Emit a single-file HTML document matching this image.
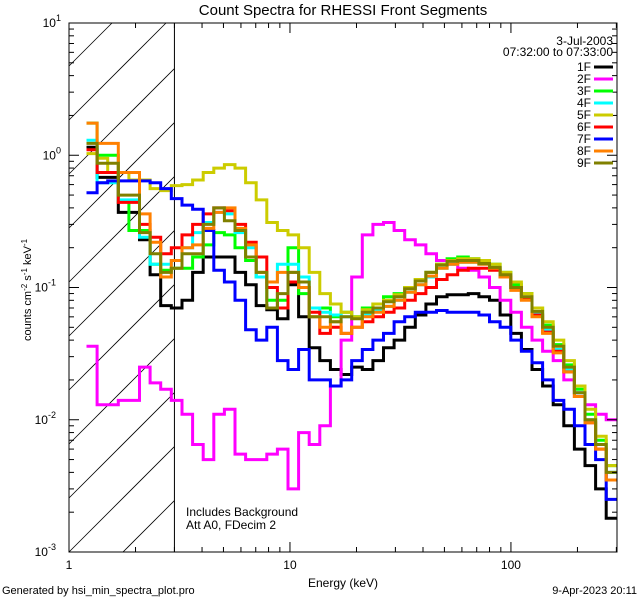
<!DOCTYPE html>
<html><head><meta charset="utf-8"><style>
html,body{margin:0;padding:0;background:#fff;overflow:hidden;width:640px;height:600px;}
svg{display:block;}
svg text{font-family:"Liberation Sans",sans-serif;}
</style></head><body>
<svg id="chart" width="640" height="600" viewBox="0 0 640 600" xmlns="http://www.w3.org/2000/svg">
<rect width="640" height="600" fill="#fff"/>
<text x="343" y="15" font-size="15" text-anchor="middle">Count Spectra for RHESSI Front Segments</text>
<text x="613" y="45" font-size="12" text-anchor="end">3-Jul-2003</text>
<text x="613" y="56" font-size="12" text-anchor="end">07:32:00 to 07:33:00</text>
<text x="343" y="587" font-size="12" text-anchor="middle">Energy (keV)</text>
<text transform="translate(31,290) rotate(-90)" font-size="11" text-anchor="middle">counts cm<tspan baseline-shift="super" font-size="8">-2</tspan> s<tspan baseline-shift="super" font-size="8">-1</tspan> keV<tspan baseline-shift="super" font-size="8">-1</tspan></text>
<text x="2" y="594" font-size="11">Generated by hsi_min_spectra_plot.pro</text>
<text x="637" y="594" font-size="11" text-anchor="end">9-Apr-2023 20:11</text>
<text x="186" y="516" font-size="12">Includes Background</text>
<text x="186" y="529" font-size="12">Att A0, FDecim 2</text>
<g id="plot"></g>
</svg>
<script>
const seriesNames = ["1F","2F","3F","4F","5F","6F","7F","8F","9F"];
const seriesColors = ["#000000","#ff00ff","#00ff00","#00ffff","#cccc00","#ff0000","#0000ff","#ff8000","#808000"];
const binStart = 1.2;
const binLogStep = 0.048;
const nBins = 50;
const s1F = [1.15,0.68,0.68,0.37,0.37,0.23,0.125,0.073,0.07,0.08,0.13,0.17,0.17,0.17,0.13,0.105,0.073,0.068,0.058,0.105,0.06,0.035,0.028,0.024,0.022,0.025,0.024,0.028,0.035,0.04,0.05,0.062,0.075,0.085,0.088,0.088,0.09,0.085,0.08,0.062,0.045,0.034,0.024,0.018,0.013,0.009,0.006,0.0045,0.003,0.0018];
const s2F = [0.036,0.013,0.013,0.014,0.014,0.025,0.019,0.017,0.014,0.011,0.0065,0.005,0.011,0.012,0.0055,0.005,0.005,0.0055,0.006,0.003,0.008,0.0065,0.009,0.018,0.04,0.12,0.25,0.3,0.31,0.27,0.23,0.21,0.18,0.16,0.15,0.14,0.135,0.12,0.1,0.08,0.065,0.05,0.04,0.033,0.028,0.02,0.016,0.013,0.011,0.01];
const s3F = [1.75,1.0,1.0,0.45,0.27,0.27,0.15,0.135,0.14,0.14,0.17,0.21,0.26,0.25,0.2,0.16,0.12,0.08,0.08,0.2,0.09,0.07,0.07,0.06,0.065,0.06,0.07,0.075,0.085,0.09,0.1,0.115,0.13,0.15,0.165,0.17,0.165,0.16,0.15,0.13,0.105,0.09,0.07,0.052,0.037,0.026,0.017,0.011,0.007,0.0045];
const s4F = [1.3,0.62,0.62,0.46,0.46,0.24,0.15,0.15,0.16,0.2,0.26,0.31,0.37,0.36,0.26,0.2,0.12,0.11,0.15,0.15,0.12,0.07,0.065,0.062,0.06,0.06,0.062,0.068,0.072,0.08,0.092,0.105,0.12,0.14,0.15,0.155,0.155,0.15,0.14,0.12,0.1,0.082,0.063,0.048,0.034,0.024,0.016,0.01,0.0065,0.004];
const s5F = [1.03,0.95,0.74,0.74,0.65,0.65,0.56,0.54,0.59,0.6,0.65,0.74,0.8,0.85,0.8,0.62,0.46,0.31,0.27,0.25,0.2,0.13,0.09,0.075,0.065,0.06,0.068,0.075,0.08,0.088,0.1,0.115,0.13,0.15,0.16,0.165,0.165,0.16,0.15,0.13,0.11,0.09,0.07,0.055,0.04,0.028,0.018,0.012,0.0075,0.0045];
const s6F = [1.1,0.74,0.74,0.44,0.44,0.3,0.24,0.18,0.2,0.25,0.3,0.36,0.4,0.38,0.3,0.22,0.17,0.1,0.07,0.11,0.1,0.065,0.045,0.05,0.045,0.05,0.055,0.06,0.065,0.07,0.08,0.09,0.1,0.115,0.125,0.135,0.14,0.14,0.135,0.12,0.1,0.082,0.062,0.046,0.033,0.023,0.015,0.0095,0.006,0.0035];
const s7F = [0.52,0.62,0.64,0.64,0.64,0.64,0.62,0.56,0.47,0.42,0.39,0.27,0.135,0.11,0.08,0.048,0.04,0.05,0.028,0.024,0.034,0.02,0.02,0.018,0.02,0.028,0.034,0.04,0.045,0.055,0.06,0.065,0.065,0.067,0.065,0.065,0.065,0.062,0.055,0.05,0.04,0.033,0.027,0.02,0.014,0.012,0.009,0.0065,0.005,0.0025];
const s8F = [1.75,1.23,1.23,0.74,0.74,0.36,0.22,0.12,0.16,0.2,0.21,0.28,0.37,0.4,0.28,0.21,0.13,0.11,0.13,0.13,0.1,0.06,0.05,0.055,0.045,0.05,0.06,0.065,0.072,0.08,0.092,0.105,0.122,0.14,0.15,0.155,0.155,0.15,0.14,0.12,0.095,0.08,0.06,0.045,0.032,0.023,0.015,0.0095,0.006,0.0035];
const s9F = [1.23,0.87,0.87,0.5,0.5,0.26,0.18,0.13,0.14,0.18,0.18,0.3,0.4,0.32,0.27,0.17,0.13,0.07,0.09,0.13,0.11,0.06,0.06,0.055,0.06,0.058,0.065,0.07,0.078,0.085,0.098,0.112,0.13,0.148,0.158,0.16,0.16,0.152,0.142,0.125,0.1,0.085,0.066,0.05,0.036,0.025,0.016,0.01,0.0065,0.004];
const seriesData = [s1F,s2F,s3F,s4F,s5F,s6F,s7F,s8F,s9F];
const xTickValues = [1,10,100];
const xTickLabels = ["1","10","100"];
const yTickExps = [-3,-2,-1,0,1];

const NS = "http://www.w3.org/2000/svg";
const L = 69, R = 617, T = 23, B = 552;
const xMin = 1, xMax = 302, yMin = 1e-3, yMax = 10;
function xS(e){ return L + (Math.log10(e) - Math.log10(xMin)) / (Math.log10(xMax) - Math.log10(xMin)) * (R - L); }
function yS(v){ return B - (Math.log10(v) - Math.log10(yMin)) / (Math.log10(yMax) - Math.log10(yMin)) * (B - T); }
function mk(tag, attrs, parent){ const el = document.createElementNS(NS, tag); for (const k in attrs) el.setAttribute(k, attrs[k]); parent.appendChild(el); return el; }
const plot = document.getElementById('plot');

const defs = mk('defs', {}, plot);
const cp = mk('clipPath', {id:'pc'}, defs);
mk('rect', {x:L, y:T, width:R-L, height:B-T}, cp);

const hatch = mk('g', {}, plot);


const hx = xS(3);
// diagonal lines y = y0 - (x - L), clipped analytically to [L,hx] x [T,B]
for (let k = -2; k < 12; k++) {
  const y0 = 552 - k*54;
  let xa = L, xb = hx;
  // y within [T,B]: y0-(x-L) <= B -> x >= L + y0 - B ; y0-(x-L) >= T -> x <= L + y0 - T
  xa = Math.max(xa, L + y0 - B);
  xb = Math.min(xb, L + y0 - T);
  if (xb <= xa) continue;
  mk('line', {x1:xa, y1:y0-(xa-L), x2:xb, y2:y0-(xb-L), stroke:'#000', 'stroke-width':0.8}, hatch);
}
mk('line', {x1:hx, y1:T, x2:hx, y2:B, stroke:'#000', 'stroke-width':1}, hatch);

const edges = [];
for (let i = 0; i <= nBins; i++) edges.push(binStart * Math.pow(10, binLogStep * i));
const sg = mk('g', {'clip-path':'url(#pc)'}, plot);
seriesData.forEach((vals, si) => {
  let d = '';
  vals.forEach((v, i) => {
    const x0 = xS(edges[i]), x1 = Math.min(R, xS(edges[i+1])), y = yS(v);
    d += (i === 0 ? 'M' : 'L') + x0.toFixed(1) + ',' + y.toFixed(1) + 'L' + x1.toFixed(1) + ',' + y.toFixed(1);
  });
  const p = mk('path', {d:d, fill:'none', stroke:seriesColors[si], 'stroke-width':3, 'stroke-linejoin':'miter'}, sg);
  
  
});

const frame = mk('rect', {x:L, y:T, width:R-L, height:B-T, fill:'none', stroke:'#000', 'stroke-width':1}, plot);



const xt = mk('g', {}, plot);


for (let dec = 1; dec <= 100; dec *= 10) {
  for (let m = 1; m <= 9; m++) {
    const e = dec * m; if (e > xMax) break;
    const x = xS(e), len = m === 1 ? 10 : 5;
    mk('line', {x1:x, y1:B, x2:x, y2:B-len, stroke:'#000'}, xt);
    mk('line', {x1:x, y1:T, x2:x, y2:T+len, stroke:'#000'}, xt);
  }
}
xTickValues.forEach((v, i) => {
  const t = mk('text', {x:xS(v), y:B+17, 'font-size':12, 'text-anchor':'middle'}, xt);
  t.textContent = xTickLabels[i];
  
  
});
const yt = mk('g', {}, plot);


yTickExps.forEach(ex => {
  const base = Math.pow(10, ex);
  for (let m = 1; m <= 9; m++) {
    const v = base * m; if (v > yMax * 1.0001) break;
    const y = yS(v), len = m === 1 ? 10 : 5;
    mk('line', {x1:L, y1:y, x2:L+len, y2:y, stroke:'#000'}, yt);
    mk('line', {x1:R, y1:y, x2:R-len, y2:y, stroke:'#000'}, yt);
  }
  const t = mk('text', {x:L-3-(String(ex).length*5), y:yS(base)+4, 'font-size':12, 'text-anchor':'end'}, yt);
  
  
  t.textContent = '10';
  const sp = mk('tspan', {dy:-6, 'font-size':9}, t);
  sp.textContent = String(ex);
});

const lg = mk('g', {}, plot);


seriesNames.forEach((n, i) => {
  const y = 67 + i * 12;
  const t = mk('text', {x:591, y:y+4, 'font-size':12, 'text-anchor':'end'}, lg);
  t.textContent = n;
  
  
  const ln = mk('line', {x1:594, y1:y, x2:613, y2:y, stroke:seriesColors[i], 'stroke-width':3}, lg);
  
  
});
</script>
</body></html>
